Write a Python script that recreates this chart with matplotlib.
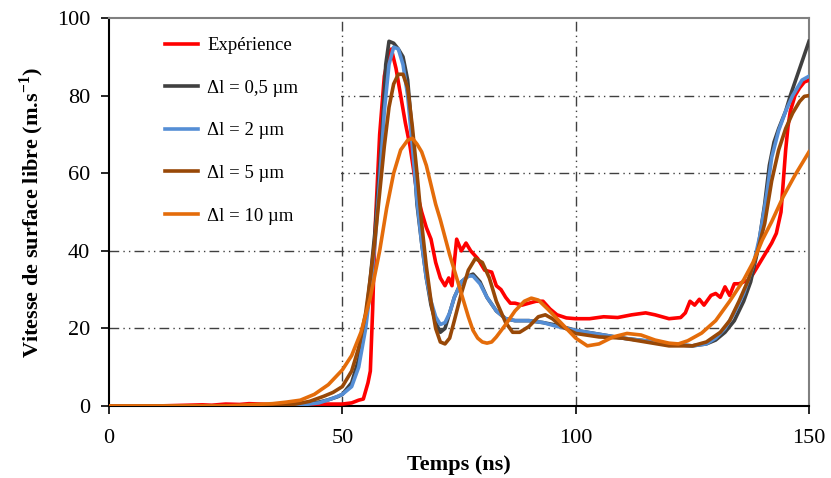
import matplotlib
matplotlib.use("Agg")
import matplotlib.pyplot as plt
from matplotlib.patches import Rectangle

# fonts: Times-like serif everywhere
plt.rcParams["font.family"] = ["Liberation Serif", "DejaVu Serif"]
plt.rcParams["mathtext.fontset"] = "custom"
plt.rcParams["mathtext.rm"] = "Liberation Serif"
plt.rcParams["mathtext.bf"] = "Liberation Serif:bold"

# experiment
t_exp = [0, 10, 20, 22, 25, 28, 30, 35, 40, 45, 50, 52, 53.5, 54.5, 55.5, 56, 56.5, 57, 58, 59,
         60, 60.5, 61.5, 62.5, 63.5, 64.5, 66, 67, 68, 69, 70, 71, 72, 72.8, 73.5, 74.5, 75.5, 76.5,
         77.5, 79, 80.5, 82, 83, 84, 85, 86, 87, 88.5, 90, 91.5, 93, 94.5, 96, 98, 100, 103, 106,
         109, 112, 115, 117, 120, 122.5, 123.5, 124.5, 125.5, 126.5, 127.5, 129, 130, 131, 132, 133,
         134, 135, 136, 137, 138, 139, 140, 141, 142, 143, 144, 144.5, 145, 145.5, 146, 147, 148, 149, 150]
v_exp = [0, 0, 0.3, 0.2, 0.5, 0.4, 0.6, 0.4, 0.5, 0.5, 0.5, 0.8, 1.5, 1.8, 6, 9, 25, 45, 70, 85,
         91, 92, 87, 80, 73, 67, 55, 50, 46, 43, 37, 33, 31, 33, 31, 43, 40, 42,
         40, 38, 35, 34.5, 31, 30, 28, 26.5, 26.5, 26, 26.5, 27, 27, 25, 23.5, 22.7, 22.5, 22.5, 23,
         22.8, 23.5, 24, 23.5, 22.5, 22.8, 24, 27, 26, 27.5, 26, 28.5, 29, 28, 30.7, 28.5,
         31.5, 31.5, 32, 32.5, 34, 36, 38, 40, 42, 44.5, 50, 58, 66, 72, 76, 80, 82, 83.5, 84]

# dl = 0.5 um
t_05 = [0, 35, 40, 43, 45, 47, 49, 50, 52, 53.5, 55, 56, 57, 57.5, 58.5, 59.3, 60, 61, 62, 63, 64,
        65, 66, 67, 68, 69, 70, 71, 72, 73, 74, 75.5, 77, 78, 79.5, 81, 83, 85, 87, 90, 93, 96, 100,
        105, 110, 115, 120, 125, 128, 130, 132, 134, 136, 137.5, 139, 140.5, 141.5, 142.5, 143.5,
        145, 146, 148, 150]
v_05 = [0, 0, 0.2, 0.6, 1.0, 1.6, 2.4, 3, 6, 12, 22, 33, 45, 53, 70, 88, 94, 93.5, 92, 90, 84,
        70, 52, 42, 33, 26, 21.5, 19, 20, 24, 28, 32, 33.5, 34, 32, 28, 24.5, 22.5, 22, 22, 21.5, 20.8, 19.5,
        18.5, 17.5, 16.8, 16, 15.5, 16, 17, 19, 22, 27, 32, 40, 52, 62, 68, 71.5,
        76, 80, 87, 94]

# dl = 2 um
t_2 = [0, 40, 45, 48, 50, 52, 53.5, 55, 56, 57, 58, 59, 60, 61, 62, 63, 64, 65, 66, 67, 68, 69, 70,
       71, 72, 73, 74, 75.5, 77, 78, 79.5, 81, 83, 85, 87, 90, 93, 96, 100, 105, 110, 115, 120, 125,
       128, 130, 132, 134, 136, 138, 139.5, 141, 142, 143.5, 145, 146.5, 148.5, 150]
v_2 = [0, 0.1, 0.8, 2, 3, 5, 10, 20, 30, 42, 58, 76, 88, 92.5, 92, 88, 80, 67, 53, 42, 33, 27, 23,
       21, 21.5, 24, 28, 32, 33.5, 33.5, 31.5, 28, 24.5, 22.5, 22, 22, 21.5, 20.5, 19.5, 18.5, 17.5, 16.8, 16, 15.5,
       16, 17.5, 20, 24, 29, 36, 44, 55, 64, 71, 76, 80, 84, 85]

# dl = 5 um
t_5 = [0, 35, 40, 43, 46, 48, 50, 52, 53.5, 55, 56, 57, 58, 59, 60, 61, 62, 63, 64, 65, 66, 67, 68,
       69, 70, 71, 72, 73, 74, 75.5, 77, 78.5, 80, 81.5, 83, 85, 86.5, 88, 90, 92, 93.5, 95, 97, 100,
       105, 110, 115, 120, 125, 128, 131, 133, 135, 137, 139, 140.5, 142, 143.5, 145, 146.5, 148, 149, 150]
v_5 = [0, 0, 0.5, 1.2, 2.5, 3.5, 5, 9, 15, 24, 33, 43, 55, 67, 77, 83, 85.5, 85.5, 82, 72, 60, 47, 36,
       27, 20, 16.5, 16, 17.5, 22, 29, 35, 38, 37, 33, 27, 21.5, 19, 19, 20.5, 23, 23.5, 22.5, 20.5, 18.7,
       17.8, 17.5, 16.5, 15.5, 15.5, 16.5, 19, 22, 27, 32.5, 40, 47, 58, 66, 71.5, 75.5, 78.5, 79.8, 80]

# dl = 10 um
t_10 = [0, 25, 30, 35, 38, 41, 44, 47, 50, 52, 54, 56, 58, 59.5, 61, 62.5, 64, 65, 66, 67, 68, 69,
        70, 71, 72, 73, 74, 75, 76, 77, 78, 79, 80, 81, 82, 83, 85, 87, 89, 90.5, 92, 94, 96, 98, 100,
        102.5, 105, 108, 111, 114, 117, 120, 122, 124, 127, 130, 133, 136, 138, 140, 142, 144.5, 147, 150]
v_10 = [0, 0, 0.3, 0.6, 1.0, 1.5, 3, 5.5, 9.3, 13, 19, 28, 40, 51, 60, 66, 68.5, 69, 67.5, 65.5, 62, 57,
        52, 48, 43.5, 39, 35, 31, 27, 23, 19.5, 17.5, 16.5, 16.2, 16.5, 17.8, 21, 24.5, 27, 27.8, 27.3, 25, 22.5, 20, 17.5,
        15.5, 16, 17.8, 18.7, 18.3, 17, 16.2, 16, 16.8, 18.8, 22, 27, 32.5, 37, 42.8, 47.5, 54, 59.5, 65.5]

series = [
    (t_exp, v_exp, "Expérience", "#FF0000"),
    (t_05, v_05, "Δl = 0,5 µm", "#404040"),
    (t_2, v_2, "Δl = 2 µm", "#558ED5"),
    (t_5, v_5, "Δl = 5 µm", "#984807"),
    (t_10, v_10, "Δl = 10 µm", "#E46C0A"),
]

fig = plt.figure(figsize=(8.31, 4.78), dpi=100)
ax = fig.add_axes([109 / 831, 1 - 406 / 478, 700 / 831, 388 / 478])

# dash-dot-dot grid only inside the plot
grid_style = dict(color="#404040", linewidth=1.0, linestyle=(0, (7, 3, 1, 3, 1, 3)), zorder=1)
for x in [50, 100]:
    ax.axvline(x, **grid_style)
for y in [20, 40, 60, 80]:
    ax.axhline(y, **grid_style)

# white area behind the legend hides the grid there
ax.add_patch(Rectangle((0.2, 45), 49.6, 55, facecolor="white", edgecolor="none", zorder=1.5))

# the curves
for t, v, label, color in series:
    ax.plot(t, v, color=color, linewidth=2.6, label=label, zorder=3)

ax.set_xlim(0, 150)
ax.set_ylim(0, 100)
ax.set_xticks([0, 50, 100, 150])
ax.set_yticks([0, 20, 40, 60, 80, 100])

# frame: black left/bottom, grey top/right
for side in ["left", "bottom"]:
    ax.spines[side].set_color("black")
    ax.spines[side].set_linewidth(1.5)
for side in ["top", "right"]:
    ax.spines[side].set_color("#808080")
    ax.spines[side].set_linewidth(1.5)
ax.tick_params(axis="both", direction="out", length=5.5, width=1.2, labelsize=16, colors="black")
ax.tick_params(axis="x", pad=11)
ax.tick_params(axis="y", pad=8)

# label the axes
ax.set_xlabel("Temps (ns)", fontsize=16, fontweight="bold", labelpad=5)
ax.set_ylabel(r"Vitesse de surface libre (m.s$^{\mathbf{-1}}$)", fontsize=16, fontweight="bold", labelpad=8)

# legend, no frame
ax.legend(loc="upper left", bbox_to_anchor=(0.08, 0.951), borderaxespad=0, borderpad=0, fontsize=13.5,
          frameon=False, handlelength=1.76, handletextpad=0.5, labelspacing=1.36)

fig.savefig("out.png", dpi=100)
